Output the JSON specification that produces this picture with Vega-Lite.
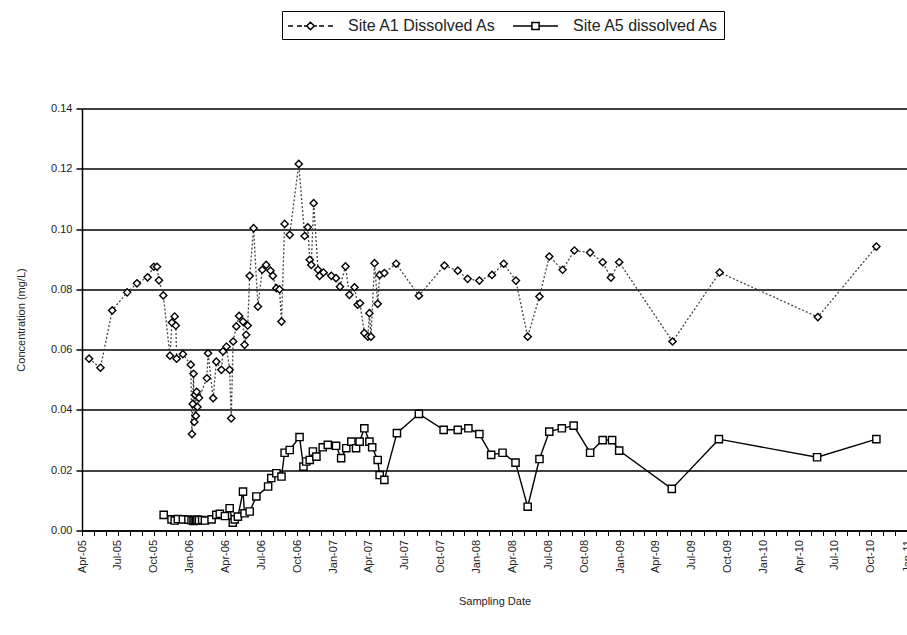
{
  "$schema": "https://vega.github.io/schema/vega-lite/v6.json",
  "autosize": {"type": "none"},
  "padding": {"left": 82, "top": 108.5, "right": 0, "bottom": 104.5},
  "width": 825,
  "height": 422,
  "background": "white",
  "config": {
    "font": "Liberation Sans",
    "view": {"stroke": null},
    "axis": {
      "domainColor": "black",
      "tickColor": "black",
      "labelColor": "#222",
      "titleColor": "#222",
      "titleFontWeight": "normal",
      "labelFont": "Liberation Sans",
      "titleFont": "Liberation Sans"
    }
  },
  "data": {
    "values": [
      {"date": "2005-04-19", "site": "Site A1 Dissolved As", "conc": 0.057},
      {"date": "2005-05-18", "site": "Site A1 Dissolved As", "conc": 0.054},
      {"date": "2005-06-17", "site": "Site A1 Dissolved As", "conc": 0.073},
      {"date": "2005-07-25", "site": "Site A1 Dissolved As", "conc": 0.079},
      {"date": "2005-08-19", "site": "Site A1 Dissolved As", "conc": 0.082},
      {"date": "2005-09-15", "site": "Site A1 Dissolved As", "conc": 0.084},
      {"date": "2005-10-01", "site": "Site A1 Dissolved As", "conc": 0.0875},
      {"date": "2005-10-09", "site": "Site A1 Dissolved As", "conc": 0.0875},
      {"date": "2005-10-14", "site": "Site A1 Dissolved As", "conc": 0.083},
      {"date": "2005-10-25", "site": "Site A1 Dissolved As", "conc": 0.078},
      {"date": "2005-11-11", "site": "Site A1 Dissolved As", "conc": 0.058},
      {"date": "2005-11-16", "site": "Site A1 Dissolved As", "conc": 0.069},
      {"date": "2005-11-23", "site": "Site A1 Dissolved As", "conc": 0.071},
      {"date": "2005-11-26", "site": "Site A1 Dissolved As", "conc": 0.068},
      {"date": "2005-11-28", "site": "Site A1 Dissolved As", "conc": 0.057},
      {"date": "2005-12-14", "site": "Site A1 Dissolved As", "conc": 0.0585},
      {"date": "2006-01-03", "site": "Site A1 Dissolved As", "conc": 0.055},
      {"date": "2006-01-06", "site": "Site A1 Dissolved As", "conc": 0.032},
      {"date": "2006-01-08", "site": "Site A1 Dissolved As", "conc": 0.042},
      {"date": "2006-01-10", "site": "Site A1 Dissolved As", "conc": 0.052},
      {"date": "2006-01-12", "site": "Site A1 Dissolved As", "conc": 0.036},
      {"date": "2006-01-14", "site": "Site A1 Dissolved As", "conc": 0.045},
      {"date": "2006-01-16", "site": "Site A1 Dissolved As", "conc": 0.038},
      {"date": "2006-01-18", "site": "Site A1 Dissolved As", "conc": 0.046},
      {"date": "2006-01-20", "site": "Site A1 Dissolved As", "conc": 0.041},
      {"date": "2006-01-24", "site": "Site A1 Dissolved As", "conc": 0.044},
      {"date": "2006-02-13", "site": "Site A1 Dissolved As", "conc": 0.0505},
      {"date": "2006-02-16", "site": "Site A1 Dissolved As", "conc": 0.0588},
      {"date": "2006-03-01", "site": "Site A1 Dissolved As", "conc": 0.0439},
      {"date": "2006-03-09", "site": "Site A1 Dissolved As", "conc": 0.056},
      {"date": "2006-03-22", "site": "Site A1 Dissolved As", "conc": 0.0533},
      {"date": "2006-03-26", "site": "Site A1 Dissolved As", "conc": 0.0594},
      {"date": "2006-04-04", "site": "Site A1 Dissolved As", "conc": 0.061},
      {"date": "2006-04-12", "site": "Site A1 Dissolved As", "conc": 0.0533},
      {"date": "2006-04-16", "site": "Site A1 Dissolved As", "conc": 0.0372},
      {"date": "2006-04-21", "site": "Site A1 Dissolved As", "conc": 0.0627},
      {"date": "2006-04-29", "site": "Site A1 Dissolved As", "conc": 0.0677},
      {"date": "2006-05-06", "site": "Site A1 Dissolved As", "conc": 0.0712},
      {"date": "2006-05-16", "site": "Site A1 Dissolved As", "conc": 0.0693},
      {"date": "2006-05-20", "site": "Site A1 Dissolved As", "conc": 0.0616},
      {"date": "2006-05-24", "site": "Site A1 Dissolved As", "conc": 0.0649},
      {"date": "2006-05-28", "site": "Site A1 Dissolved As", "conc": 0.068},
      {"date": "2006-06-02", "site": "Site A1 Dissolved As", "conc": 0.0845},
      {"date": "2006-06-12", "site": "Site A1 Dissolved As", "conc": 0.1003},
      {"date": "2006-06-23", "site": "Site A1 Dissolved As", "conc": 0.0743},
      {"date": "2006-07-04", "site": "Site A1 Dissolved As", "conc": 0.0865},
      {"date": "2006-07-14", "site": "Site A1 Dissolved As", "conc": 0.0881},
      {"date": "2006-07-25", "site": "Site A1 Dissolved As", "conc": 0.0862},
      {"date": "2006-07-31", "site": "Site A1 Dissolved As", "conc": 0.0845},
      {"date": "2006-08-09", "site": "Site A1 Dissolved As", "conc": 0.0804},
      {"date": "2006-08-17", "site": "Site A1 Dissolved As", "conc": 0.080},
      {"date": "2006-08-22", "site": "Site A1 Dissolved As", "conc": 0.0693},
      {"date": "2006-08-30", "site": "Site A1 Dissolved As", "conc": 0.1017},
      {"date": "2006-09-12", "site": "Site A1 Dissolved As", "conc": 0.0981},
      {"date": "2006-10-05", "site": "Site A1 Dissolved As", "conc": 0.1216},
      {"date": "2006-10-20", "site": "Site A1 Dissolved As", "conc": 0.0977},
      {"date": "2006-10-28", "site": "Site A1 Dissolved As", "conc": 0.1006},
      {"date": "2006-11-02", "site": "Site A1 Dissolved As", "conc": 0.0898},
      {"date": "2006-11-06", "site": "Site A1 Dissolved As", "conc": 0.0881},
      {"date": "2006-11-12", "site": "Site A1 Dissolved As", "conc": 0.1086},
      {"date": "2006-11-23", "site": "Site A1 Dissolved As", "conc": 0.0865},
      {"date": "2006-11-27", "site": "Site A1 Dissolved As", "conc": 0.0845},
      {"date": "2006-12-07", "site": "Site A1 Dissolved As", "conc": 0.0856},
      {"date": "2006-12-27", "site": "Site A1 Dissolved As", "conc": 0.0845},
      {"date": "2007-01-08", "site": "Site A1 Dissolved As", "conc": 0.0837},
      {"date": "2007-01-18", "site": "Site A1 Dissolved As", "conc": 0.0809},
      {"date": "2007-02-01", "site": "Site A1 Dissolved As", "conc": 0.0876},
      {"date": "2007-02-11", "site": "Site A1 Dissolved As", "conc": 0.0782},
      {"date": "2007-02-24", "site": "Site A1 Dissolved As", "conc": 0.0807},
      {"date": "2007-03-04", "site": "Site A1 Dissolved As", "conc": 0.0749},
      {"date": "2007-03-10", "site": "Site A1 Dissolved As", "conc": 0.0754},
      {"date": "2007-03-21", "site": "Site A1 Dissolved As", "conc": 0.0655},
      {"date": "2007-03-30", "site": "Site A1 Dissolved As", "conc": 0.0643},
      {"date": "2007-04-03", "site": "Site A1 Dissolved As", "conc": 0.0721},
      {"date": "2007-04-07", "site": "Site A1 Dissolved As", "conc": 0.0643},
      {"date": "2007-04-16", "site": "Site A1 Dissolved As", "conc": 0.0887},
      {"date": "2007-04-24", "site": "Site A1 Dissolved As", "conc": 0.0752},
      {"date": "2007-04-29", "site": "Site A1 Dissolved As", "conc": 0.0848},
      {"date": "2007-05-11", "site": "Site A1 Dissolved As", "conc": 0.0854},
      {"date": "2007-06-10", "site": "Site A1 Dissolved As", "conc": 0.0885},
      {"date": "2007-08-07", "site": "Site A1 Dissolved As", "conc": 0.0779},
      {"date": "2007-10-11", "site": "Site A1 Dissolved As", "conc": 0.0879},
      {"date": "2007-11-14", "site": "Site A1 Dissolved As", "conc": 0.0862},
      {"date": "2007-12-09", "site": "Site A1 Dissolved As", "conc": 0.0835},
      {"date": "2008-01-08", "site": "Site A1 Dissolved As", "conc": 0.0829},
      {"date": "2008-02-09", "site": "Site A1 Dissolved As", "conc": 0.0848},
      {"date": "2008-03-10", "site": "Site A1 Dissolved As", "conc": 0.0885},
      {"date": "2008-04-10", "site": "Site A1 Dissolved As", "conc": 0.0829},
      {"date": "2008-05-10", "site": "Site A1 Dissolved As", "conc": 0.0643},
      {"date": "2008-06-09", "site": "Site A1 Dissolved As", "conc": 0.0776},
      {"date": "2008-07-04", "site": "Site A1 Dissolved As", "conc": 0.0909},
      {"date": "2008-08-07", "site": "Site A1 Dissolved As", "conc": 0.0865},
      {"date": "2008-09-06", "site": "Site A1 Dissolved As", "conc": 0.0929},
      {"date": "2008-10-16", "site": "Site A1 Dissolved As", "conc": 0.0922},
      {"date": "2008-11-17", "site": "Site A1 Dissolved As", "conc": 0.089},
      {"date": "2008-12-08", "site": "Site A1 Dissolved As", "conc": 0.0839},
      {"date": "2008-12-29", "site": "Site A1 Dissolved As", "conc": 0.089},
      {"date": "2009-05-14", "site": "Site A1 Dissolved As", "conc": 0.0627},
      {"date": "2009-09-11", "site": "Site A1 Dissolved As", "conc": 0.0856},
      {"date": "2010-05-19", "site": "Site A1 Dissolved As", "conc": 0.0708},
      {"date": "2010-10-15", "site": "Site A1 Dissolved As", "conc": 0.0942},
      {"date": "2005-10-26", "site": "Site A5 dissolved As", "conc": 0.0052},
      {"date": "2005-11-15", "site": "Site A5 dissolved As", "conc": 0.0037},
      {"date": "2005-11-23", "site": "Site A5 dissolved As", "conc": 0.0033},
      {"date": "2005-12-01", "site": "Site A5 dissolved As", "conc": 0.0038},
      {"date": "2005-12-14", "site": "Site A5 dissolved As", "conc": 0.0037},
      {"date": "2005-12-28", "site": "Site A5 dissolved As", "conc": 0.0036},
      {"date": "2006-01-05", "site": "Site A5 dissolved As", "conc": 0.0034},
      {"date": "2006-01-10", "site": "Site A5 dissolved As", "conc": 0.0032},
      {"date": "2006-01-13", "site": "Site A5 dissolved As", "conc": 0.0035},
      {"date": "2006-01-17", "site": "Site A5 dissolved As", "conc": 0.0033},
      {"date": "2006-01-20", "site": "Site A5 dissolved As", "conc": 0.0036},
      {"date": "2006-01-24", "site": "Site A5 dissolved As", "conc": 0.0034},
      {"date": "2006-02-01", "site": "Site A5 dissolved As", "conc": 0.0035},
      {"date": "2006-02-08", "site": "Site A5 dissolved As", "conc": 0.0033},
      {"date": "2006-02-25", "site": "Site A5 dissolved As", "conc": 0.0037},
      {"date": "2006-03-09", "site": "Site A5 dissolved As", "conc": 0.0052},
      {"date": "2006-03-18", "site": "Site A5 dissolved As", "conc": 0.0055},
      {"date": "2006-03-31", "site": "Site A5 dissolved As", "conc": 0.0048},
      {"date": "2006-04-12", "site": "Site A5 dissolved As", "conc": 0.0074},
      {"date": "2006-04-20", "site": "Site A5 dissolved As", "conc": 0.0026},
      {"date": "2006-04-25", "site": "Site A5 dissolved As", "conc": 0.0037},
      {"date": "2006-05-03", "site": "Site A5 dissolved As", "conc": 0.0046},
      {"date": "2006-05-16", "site": "Site A5 dissolved As", "conc": 0.0129},
      {"date": "2006-05-20", "site": "Site A5 dissolved As", "conc": 0.0057},
      {"date": "2006-06-02", "site": "Site A5 dissolved As", "conc": 0.0063},
      {"date": "2006-06-19", "site": "Site A5 dissolved As", "conc": 0.0113},
      {"date": "2006-07-19", "site": "Site A5 dissolved As", "conc": 0.0146},
      {"date": "2006-07-27", "site": "Site A5 dissolved As", "conc": 0.0174},
      {"date": "2006-08-09", "site": "Site A5 dissolved As", "conc": 0.019},
      {"date": "2006-08-22", "site": "Site A5 dissolved As", "conc": 0.0179},
      {"date": "2006-08-30", "site": "Site A5 dissolved As", "conc": 0.0258},
      {"date": "2006-09-12", "site": "Site A5 dissolved As", "conc": 0.0267},
      {"date": "2006-10-07", "site": "Site A5 dissolved As", "conc": 0.031},
      {"date": "2006-10-17", "site": "Site A5 dissolved As", "conc": 0.0212},
      {"date": "2006-10-24", "site": "Site A5 dissolved As", "conc": 0.0229},
      {"date": "2006-11-02", "site": "Site A5 dissolved As", "conc": 0.0234},
      {"date": "2006-11-10", "site": "Site A5 dissolved As", "conc": 0.0262},
      {"date": "2006-11-19", "site": "Site A5 dissolved As", "conc": 0.0245},
      {"date": "2006-12-05", "site": "Site A5 dissolved As", "conc": 0.0276},
      {"date": "2006-12-18", "site": "Site A5 dissolved As", "conc": 0.0284},
      {"date": "2007-01-08", "site": "Site A5 dissolved As", "conc": 0.0281},
      {"date": "2007-01-21", "site": "Site A5 dissolved As", "conc": 0.024},
      {"date": "2007-02-03", "site": "Site A5 dissolved As", "conc": 0.0273},
      {"date": "2007-02-16", "site": "Site A5 dissolved As", "conc": 0.0295},
      {"date": "2007-02-28", "site": "Site A5 dissolved As", "conc": 0.0273},
      {"date": "2007-03-09", "site": "Site A5 dissolved As", "conc": 0.0295},
      {"date": "2007-03-21", "site": "Site A5 dissolved As", "conc": 0.0339},
      {"date": "2007-04-03", "site": "Site A5 dissolved As", "conc": 0.0295},
      {"date": "2007-04-10", "site": "Site A5 dissolved As", "conc": 0.0276},
      {"date": "2007-04-24", "site": "Site A5 dissolved As", "conc": 0.0234},
      {"date": "2007-04-29", "site": "Site A5 dissolved As", "conc": 0.0184},
      {"date": "2007-05-11", "site": "Site A5 dissolved As", "conc": 0.0168},
      {"date": "2007-06-12", "site": "Site A5 dissolved As", "conc": 0.0323},
      {"date": "2007-08-07", "site": "Site A5 dissolved As", "conc": 0.0387},
      {"date": "2007-10-09", "site": "Site A5 dissolved As", "conc": 0.0334},
      {"date": "2007-11-14", "site": "Site A5 dissolved As", "conc": 0.0334},
      {"date": "2007-12-11", "site": "Site A5 dissolved As", "conc": 0.0339},
      {"date": "2008-01-08", "site": "Site A5 dissolved As", "conc": 0.032},
      {"date": "2008-02-07", "site": "Site A5 dissolved As", "conc": 0.0251},
      {"date": "2008-03-07", "site": "Site A5 dissolved As", "conc": 0.0258},
      {"date": "2008-04-09", "site": "Site A5 dissolved As", "conc": 0.0225},
      {"date": "2008-05-10", "site": "Site A5 dissolved As", "conc": 0.0079},
      {"date": "2008-06-09", "site": "Site A5 dissolved As", "conc": 0.0237},
      {"date": "2008-07-04", "site": "Site A5 dissolved As", "conc": 0.0328},
      {"date": "2008-08-05", "site": "Site A5 dissolved As", "conc": 0.0339},
      {"date": "2008-09-04", "site": "Site A5 dissolved As", "conc": 0.0348},
      {"date": "2008-10-16", "site": "Site A5 dissolved As", "conc": 0.0258},
      {"date": "2008-11-17", "site": "Site A5 dissolved As", "conc": 0.030},
      {"date": "2008-12-11", "site": "Site A5 dissolved As", "conc": 0.030},
      {"date": "2008-12-29", "site": "Site A5 dissolved As", "conc": 0.0265},
      {"date": "2009-05-12", "site": "Site A5 dissolved As", "conc": 0.0138},
      {"date": "2009-09-09", "site": "Site A5 dissolved As", "conc": 0.0303},
      {"date": "2010-05-17", "site": "Site A5 dissolved As", "conc": 0.0243},
      {"date": "2010-10-15", "site": "Site A5 dissolved As", "conc": 0.0303}
    ]
  },
  "encoding": {
    "x": {
      "field": "date",
      "type": "temporal",
      "scale": {
        "type": "utc",
        "domain": [
          {"year": 2005, "month": 4, "date": 1, "utc": true},
          {"year": 2011, "month": 1, "date": 1, "utc": true}
        ]
      },
      "axis": {
        "title": "Sampling Date",
        "titleFontSize": 11,
        "titlePadding": 22,
        "grid": false,
        "tickCount": {"interval": "month", "step": 1},
        "labelExpr": "utcmonth(datum.value) % 3 == 0 ? utcFormat(datum.value, '%b-%y') : ''",
        "labelAngle": 270,
        "labelFontSize": 11,
        "labelOverlap": false,
        "labelBound": false,
        "labelFlush": false,
        "labelPadding": 4,
        "tickSize": 5,
        "tickWidth": 1,
        "domainWidth": 1.5
      }
    },
    "y": {
      "field": "conc",
      "type": "quantitative",
      "scale": {"domain": [0, 0.14], "nice": false, "zero": true},
      "axis": {
        "title": "Concentration (mg/L)",
        "titleFontSize": 11,
        "titlePadding": 24,
        "values": [0, 0.02, 0.04, 0.06, 0.08, 0.1, 0.12, 0.14],
        "format": ".2f",
        "labelFontSize": 11,
        "labelPadding": 4,
        "tickSize": 6,
        "tickWidth": 1.5,
        "domainWidth": 1.5,
        "grid": true,
        "gridColor": "black",
        "gridWidth": 1.5,
        "gridOpacity": 1
      }
    }
  },
  "layer": [
    {
      "transform": [{"filter": "datum.site === 'Site A1 Dissolved As'"}],
      "mark": {"type": "line", "stroke": "#444444", "strokeWidth": 1.3, "strokeDash": [2, 2]},
      "encoding": {}
    },
    {
      "transform": [{"filter": "datum.site === 'Site A5 dissolved As'"}],
      "mark": {"type": "line", "stroke": "black", "strokeWidth": 1.4},
      "encoding": {}
    },
    {
      "transform": [{"filter": "datum.site === 'Site A1 Dissolved As'"}],
      "mark": {"type": "point", "shape": "diamond", "filled": true, "fill": "white", "stroke": "black", "strokeWidth": 1.4, "size": 52, "opacity": 1}
    },
    {
      "transform": [{"filter": "datum.site === 'Site A5 dissolved As'"}],
      "mark": {"type": "point", "shape": "square", "filled": true, "fill": "white", "stroke": "black", "strokeWidth": 1.4, "size": 52, "opacity": 1}
    },
    {
      "transform": [{"filter": "datum.conc < 0"}],
      "mark": {"type": "point", "filled": false, "color": "black", "strokeWidth": 1.2, "opacity": 1},
      "encoding": {
        "shape": {
          "field": "site",
          "type": "nominal",
          "scale": {
            "domain": ["Site A1 Dissolved As", "Site A5 dissolved As"],
            "range": [
              "M-2.5,0H-1.95M-1.5,0H-0.95M-0.72,0H-0.45M-0.42,0L0,-0.42L0.42,0L0,0.42ZM0.45,0H0.72M0.95,0H1.5M1.95,0H2.5",
              "M-2.5,0H-0.4M0.4,0H2.5M-0.4,-0.4H0.4V0.4H-0.4Z"
            ]
          },
          "legend": {
            "title": null,
            "orient": "none",
            "legendX": 200,
            "legendY": -97.5,
            "direction": "horizontal",
            "symbolSize": 324,
            "symbolOffset": 13.5,
            "labelOffset": 27.5,
            "columnPadding": 13,
            "padding": 5,
            "labelFontSize": 16,
            "labelFont": "Liberation Sans",
            "labelColor": "#222",
            "strokeColor": "black",
            "encode": {
              "symbols": {
                "fill": {"value": "white"},
                "stroke": {"value": "black"},
                "strokeWidth": {"value": 1.2},
                "opacity": {"value": 1}
              }
            }
          }
        }
      }
    }
  ]
}
